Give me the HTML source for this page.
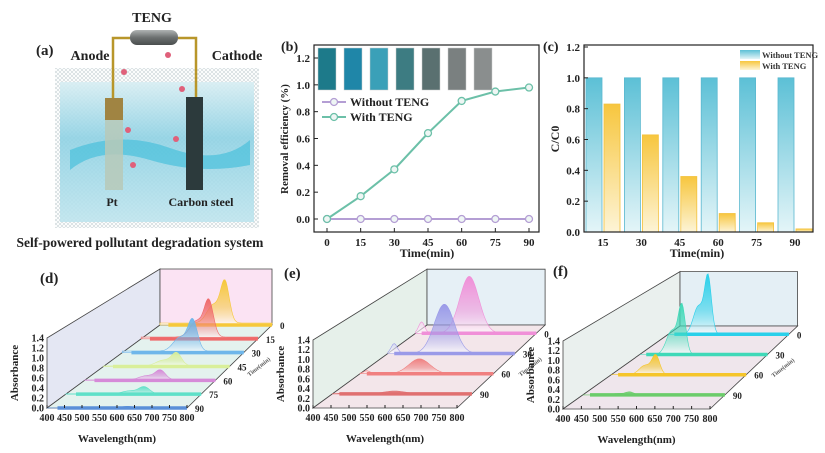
<!DOCTYPE html>
<html><head><meta charset="utf-8"><style>
html,body{margin:0;padding:0;background:#fff;}
svg{display:block;font-family:"Liberation Serif",serif;font-weight:bold;}
</style></head><body>
<svg id="fig" width="825" height="453" viewBox="0 0 825 453" xmlns="http://www.w3.org/2000/svg">
<defs>
<linearGradient id="gBlue" x1="0" y1="0" x2="0" y2="1"><stop offset="0" stop-color="#5cc0d6"/><stop offset="1" stop-color="#e4f5f8"/></linearGradient>
<linearGradient id="gYel" x1="0" y1="0" x2="0" y2="1"><stop offset="0" stop-color="#f7c63e"/><stop offset="1" stop-color="#fdf4d6"/></linearGradient>
<linearGradient id="gWater" x1="0" y1="0" x2="0" y2="1"><stop offset="0" stop-color="#d8eef3"/><stop offset="0.4" stop-color="#8fd2e4"/><stop offset="1" stop-color="#bfe5ee"/></linearGradient>
<linearGradient id="gCap" x1="0" y1="0" x2="0" y2="1"><stop offset="0" stop-color="#b0b4b4"/><stop offset="0.5" stop-color="#6c7070"/><stop offset="1" stop-color="#4a4e4e"/></linearGradient>
<pattern id="hatch" width="4" height="4" patternUnits="userSpaceOnUse"><path d="M0 0L4 4M4 0L0 4" stroke="#c9d3d6" stroke-width="0.6"/></pattern>
</defs>

<g>
  <rect x="55" y="68" width="204" height="160" fill="url(#hatch)"/>
  <rect x="60" y="82" width="194" height="140" fill="url(#gWater)" opacity="0.9"/>
  <path d="M70 150 Q120 130 170 148 T250 140 L250 165 Q200 175 150 160 T70 170Z" fill="#4fc2dc" opacity="0.75"/>
  <rect x="130" y="30" width="48" height="15" rx="7" fill="url(#gCap)"/>
  <path d="M130 38 L113 38 L113 100 M178 38 L196 38 L196 98" fill="none" stroke="#b8962a" stroke-width="2.5"/>
  <rect x="105" y="98" width="18" height="92" fill="#b7c9b8" opacity="0.85"/>
  <rect x="105" y="98" width="18" height="22" fill="#a08442"/>
  <rect x="186" y="97" width="17" height="93" fill="#2c3a3c"/>
  <circle cx="124" cy="72" r="3" fill="#e0607a"/>
  <circle cx="168" cy="55" r="3" fill="#e0607a"/>
  <circle cx="182" cy="89" r="3" fill="#e0607a"/>
  <circle cx="128" cy="130" r="3" fill="#e0607a"/>
  <circle cx="176" cy="139" r="3" fill="#e0607a"/>
  <circle cx="133" cy="165" r="3" fill="#e0607a"/>
  <text x="152" y="22" font-size="14" text-anchor="middle" fill="#222">TENG</text>
  <text x="36" y="55" font-size="15" fill="#222">(a)</text>
  <text x="90" y="60" font-size="14" text-anchor="middle" fill="#222">Anode</text>
  <text x="237" y="60" font-size="14" text-anchor="middle" fill="#222">Cathode</text>
  <text x="112" y="206" font-size="12" text-anchor="middle" fill="#222">Pt</text>
  <text x="201" y="206" font-size="12" text-anchor="middle" fill="#222">Carbon steel</text>
  <text x="140" y="247" font-size="13.5" text-anchor="middle" fill="#222">Self-powered pollutant degradation system</text>
</g>

<g id="pb"></g>
<g id="pc"></g>
<g id="pd"></g>
<g id="pe"></g>
<g id="pf"></g>
</svg>
<script>
// ---- Panel b data ----
const bTimes = [0, 15, 30, 45, 60, 75, 90];
const bWith = [0, 0.17, 0.37, 0.64, 0.88, 0.95, 0.98];
const bWithout = [0, 0, 0, 0, 0, 0, 0];
const bYTicks = [0.0, 0.2, 0.4, 0.6, 0.8, 1.0, 1.2];
const vialColors = ["#1d7a8a", "#1f86a8", "#3aa0b8", "#3d7c82", "#5a7070", "#7a8080", "#8a8e8e"];
// ---- Panel c data ----
const cCats = ["15", "30", "45", "60", "75", "90"];
const cWithout = [1.0, 1.0, 1.0, 1.0, 1.0, 1.0];
const cWith = [0.83, 0.63, 0.36, 0.12, 0.06, 0.02];
const cYTicks = [0.0, 0.2, 0.4, 0.6, 0.8, 1.0, 1.2];
// ---- Panels d/e/f data ----
const wlTicks = [400, 450, 500, 550, 600, 650, 700, 750, 800];
const absTicks = [0.0, 0.2, 0.4, 0.6, 0.8, 1.0, 1.2, 1.4];
const dTimes = [0, 15, 30, 45, 60, 75, 90];
const dPeaks = [1.0, 0.85, 0.7, 0.28, 0.2, 0.14, 0.03];
const eTimes = [0, 30, 60, 90];
const ePeaks = [1.4, 1.15, 0.33, 0.06];
const fTimes = [0, 30, 60, 90];
const fPeaks = [1.4, 1.12, 0.42, 0.06];

const NS = "http://www.w3.org/2000/svg";
function mk(parent, tag, attrs, txt) {
  const el = document.createElementNS(NS, tag);
  for (const k in attrs) el.setAttribute(k, attrs[k]);
  if (txt !== undefined) el.textContent = txt;
  parent.appendChild(el);
  return el;
}

// ===== Panel b =====
(function () {
  const g = document.getElementById("pb");
  const X = t => 327 + t / 90 * 202;
  const Y = v => 219 - v / 1.2 * 161;
  let el;
  for (let i = 0; i < vialColors.length; i++) {
    el = mk(g, "rect", { x: 318 + i * 26, y: 48, width: 18, height: 42, fill: vialColors[i], stroke: "#ccc", "stroke-width": 0.5 });
    
    
  }
  el = mk(g, "rect", { x: 314, y: 45, width: 225, height: 187, fill: "none", stroke: "#222", "stroke-width": 1.2 });
  
  
  bYTicks.forEach(v => {
    const t = mk(g, "text", { x: 310, y: Y(v) + 4, "font-size": 11, "text-anchor": "end", fill: "#222" }, v.toFixed(1));
    
    
    mk(g, "line", { x1: 314, x2: 318, y1: Y(v), y2: Y(v), stroke: "#222" });
  });
  bTimes.forEach(t => {
    const e = mk(g, "text", { x: X(t), y: 246, "font-size": 11, "text-anchor": "middle", fill: "#222" }, String(t));
    
    
    mk(g, "line", { x1: X(t), x2: X(t), y1: 232, y2: 228, stroke: "#222" });
  });
  el = mk(g, "text", { x: 427, y: 257, "font-size": 12, "text-anchor": "middle", fill: "#222" }, "Time(min)");
  
  
  el = mk(g, "text", { x: 0, y: 0, "font-size": 11, "text-anchor": "middle", fill: "#222", transform: "translate(288,139) rotate(-90)" }, "Removal efficiency (%)");
  
  
  el = mk(g, "text", { x: 281, y: 51, "font-size": 14, fill: "#222" }, "(b)");
  
  
  const series = [[bWithout, "#b49ed4", "series-without-teng"], [bWith, "#6cc0a8", "series-with-teng"]];
  series.forEach(([vals, col, nm]) => {
    const p = mk(g, "polyline", { points: vals.map((v, i) => X(bTimes[i]) + "," + Y(v)).join(" "), fill: "none", stroke: col, "stroke-width": 2 });
    
    
    vals.forEach((v, i) => {
      const c = mk(g, "circle", { cx: X(bTimes[i]), cy: Y(v), r: 3.5, fill: "#eef6f4", stroke: col, "stroke-width": 1.3 });
      
      
    });
  });
  [["Without TENG", "#b49ed4", 102], ["With TENG", "#6cc0a8", 117]].forEach(([lab, col, y]) => {
    mk(g, "line", { x1: 322, x2: 346, y1: y, y2: y, stroke: col, "stroke-width": 2 });
    mk(g, "circle", { cx: 334, cy: y, r: 3.5, fill: "#eef6f4", stroke: col, "stroke-width": 1.3 });
    const t = mk(g, "text", { x: 350, y: y + 4, "font-size": 12, fill: "#222" }, lab);
    
    
  });
})();

// ===== Panel c =====
(function () {
  const g = document.getElementById("pc");
  const Y = v => 232 - v / 1.2 * 185;
  const CX = i => 603 + i * 38.4;
  let el;
  cCats.forEach((c, i) => {
    const b1 = mk(g, "rect", { x: CX(i) - 17, y: Y(cWithout[i]), width: 16, height: 232 - Y(cWithout[i]), fill: "url(#gBlue)", stroke: "#5ab8cf", "stroke-width": 0.8 });
    
    
    const b2 = mk(g, "rect", { x: CX(i) + 1, y: Y(cWith[i]), width: 16, height: 232 - Y(cWith[i]), fill: "url(#gYel)", stroke: "#f3c23d", "stroke-width": 0.8 });
    
    
    const t = mk(g, "text", { x: CX(i), y: 246, "font-size": 11, "text-anchor": "middle", fill: "#222" }, c);
    
    
  });
  el = mk(g, "rect", { x: 584, y: 45, width: 229, height: 187, fill: "none", stroke: "#222", "stroke-width": 1.2 });
  
  
  cYTicks.forEach(v => {
    const t = mk(g, "text", { x: 580, y: Y(v) + 4, "font-size": 11, "text-anchor": "end", fill: "#222" }, v.toFixed(1));
    
    
    mk(g, "line", { x1: 584, x2: 588, y1: Y(v), y2: Y(v), stroke: "#222" });
  });
  el = mk(g, "text", { x: 697, y: 257, "font-size": 12, "text-anchor": "middle", fill: "#222" }, "Time(min)");
  
  
  el = mk(g, "text", { x: 0, y: 0, "font-size": 12, "text-anchor": "middle", fill: "#222", transform: "translate(559,139) rotate(-90)" }, "C/C0");
  
  
  el = mk(g, "text", { x: 543, y: 51, "font-size": 14, fill: "#222" }, "(c)");
  
  
  [["Without TENG", "url(#gBlue)", 50], ["With TENG", "url(#gYel)", 61]].forEach(([lab, f, y]) => {
    mk(g, "rect", { x: 740, y: y, width: 20, height: 9, fill: f });
    const t = mk(g, "text", { x: 762, y: y + 8, "font-size": 8.5, fill: "#333" }, lab);
    
    
  });
})();

// ===== Waterfall panels =====
function waterfall(id, cfg, times, peaks, colors, frac, shape, label) {
  const g = document.getElementById(id);
  const P = (w, a, f) => {
    const s = 1 - cfg.k * f;
    return [cfg.x0 + f * cfg.dx + (w - 400) / 400 * cfg.W * s, cfg.y0 + f * cfg.dy - a / 1.4 * cfg.H * s];
  };
  const pt = p => p[0].toFixed(1) + "," + p[1].toFixed(1);
  let el;
  el = mk(g, "polygon", { points: [P(400, 0, 0), P(400, 0, 1), P(400, 1.4, 1), P(400, 1.4, 0)].map(pt).join(" "), fill: cfg.left, stroke: "#444", "stroke-width": 0.8 });
  
  
  el = mk(g, "polygon", { points: [P(400, 0, 1), P(800, 0, 1), P(800, 1.4, 1), P(400, 1.4, 1)].map(pt).join(" "), fill: cfg.back, stroke: "#444", "stroke-width": 0.8 });
  
  
  el = mk(g, "polygon", { points: [P(400, 0, 0), P(800, 0, 0), P(800, 0, 1), P(400, 0, 1)].map(pt).join(" "), fill: cfg.floor, stroke: "#444", "stroke-width": 0.8 });
  
  
  const order = times.map((t, i) => i).sort((a, b) => frac(times[b]) - frac(times[a]));
  order.forEach(i => {
    const f = frac(times[i]);
    const pts = [];
    for (let w = 400; w <= 800; w += 4) pts.push(P(w, peaks[i] * shape(w), f));
    pts.push(P(800, 0, f)); pts.push(P(400, 0, f));
    const gid = id + "grad" + i;
    const lg = mk(g, "linearGradient", { id: gid, x1: 0, y1: 0, x2: 0, y2: 1 });
    mk(lg, "stop", { offset: 0, "stop-color": colors[i] });
    mk(lg, "stop", { offset: 0.6, "stop-color": colors[i], "stop-opacity": 0.55 });
    mk(lg, "stop", { offset: 1, "stop-color": "#ffffff", "stop-opacity": 0.7 });
    const poly = mk(g, "polygon", { points: pts.map(pt).join(" "), fill: "url(#" + gid + ")", stroke: colors[i], "stroke-width": 0.6 });
    
    
    const a = P(400 + cfg.start, 0, f), b = P(800, 0, f);
    const ln = mk(g, "line", { x1: a[0], y1: a[1], x2: b[0], y2: b[1], stroke: colors[i], "stroke-width": 3.5 });
    
    
    const q = P(800, 0, f);
    const tl = mk(g, "text", { x: q[0] + 8, y: q[1] + 4, "font-size": 9, fill: "#222" }, String(times[i]));
    
    
  });
  wlTicks.forEach(w => {
    const p = P(w, 0, 0);
    mk(g, "line", { x1: p[0], x2: p[0], y1: p[1], y2: p[1] - 3, stroke: "#222" });
    const t = mk(g, "text", { x: p[0], y: p[1] + 13, "font-size": 10, "text-anchor": "middle", fill: "#222" }, String(w));
    
    
  });
  absTicks.forEach(v => {
    const p = P(400, v, 0);
    const t = mk(g, "text", { x: p[0] - 3, y: p[1] + 3.5, "font-size": 10, "text-anchor": "end", fill: "#222" }, v.toFixed(1));
    
    
  });
  const c = P(600, 0, 0);
  el = mk(g, "text", { x: c[0], y: c[1] + 34, "font-size": 11, "text-anchor": "middle", fill: "#222" }, "Wavelength(nm)");
  
  
  const m = P(400, 0.7, 0);
  el = mk(g, "text", { x: 0, y: 0, "font-size": 11, "text-anchor": "middle", fill: "#222", transform: "translate(" + (m[0] - 29) + "," + m[1] + ") rotate(-90)" }, "Absorbance");
  
  
  const r0 = P(800, 0, 0.3), r1 = P(800, 0, 0.6);
  el = mk(g, "text", { x: 0, y: 0, "font-size": 6, fill: "#555", transform: "translate(" + ((r0[0] + r1[0]) / 2 + 24) + "," + ((r0[1] + r1[1]) / 2 + 6) + ") rotate(-38)" }, "Time(min)");
  
  
  el = mk(g, "text", { x: cfg.lx, y: cfg.ly, "font-size": 15, fill: "#222" }, label);
  
  
}
const gau = (w, m, s) => Math.exp(-((w - m) / s) * ((w - m) / s));
waterfall("pd", { x0: 47, y0: 408, W: 140, H: 70, dx: 113, dy: -83, k: 0.2, left: "#e4e7f3", back: "#fbe3f3", floor: "#e4f2ee", start: 30, lx: 40, ly: 283 },
  dTimes, dPeaks, ["#f6c83a", "#ef6a6a", "#6fb6ea", "#d9ef9a", "#d68ad8", "#5fe0c8", "#5a8fd8"],
  t => 1 - t / 90, w => gau(w, 632, 22) + 0.45 * gau(w, 590, 32) + 0.05, "(d)");
waterfall("pe", { x0: 313, y0: 408, W: 144, H: 68, dx: 114, dy: -83, k: 0.18, left: "#e6f0ea", back: "#e6f0f6", floor: "#f3e6ea", start: 20, lx: 284, ly: 278 },
  eTimes, ePeaks, ["#f08fd8", "#9a9ae8", "#f08080", "#e07070"],
  t => 0.9 - t / 90 * 0.73, w => gau(w, 578, 45) + 0.2 * gau(w, 420, 14), "(e)");
waterfall("pf", { x0: 563, y0: 409, W: 147, H: 68, dx: 117, dy: -83, k: 0.2, left: "#eaf0ee", back: "#e4eff5", floor: "#efe6ec", start: 20, lx: 553, ly: 276 },
  fTimes, fPeaks, ["#2ad0ea", "#3fd9b8", "#f5c52a", "#6bcc6a"],
  t => 0.9 - t / 90 * 0.73, w => gau(w, 532, 16) + 0.5 * gau(w, 500, 24), "(f)");
</script>
</body></html>
